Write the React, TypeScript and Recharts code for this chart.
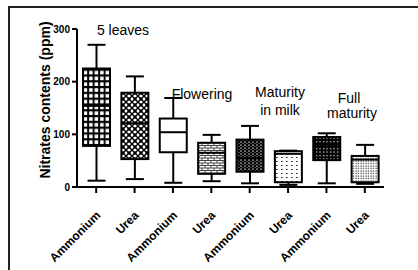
import React from 'react'
import { ComposedChart, Bar, XAxis, YAxis } from 'recharts'

const categories = ['Ammonium', 'Urea', 'Ammonium', 'Urea', 'Ammonium', 'Urea', 'Ammonium', 'Urea']
const mins = [12, 15, 8, 11, 7, 4, 7, 6]
const q1s = [78, 53, 66, 25, 29, 9, 51, 9]
const medians = [154, 121, 104, 65, 55, 63, 80, 52]
const q3s = [225, 179, 130, 84, 90, 68, 95, 59]
const maxs = [270, 210, 169, 99, 116, 69, 102, 80]
const fills = ['p1', 'p2', 'p3', 'p4', 'p5', 'p6', 'p7', 'p8']
const yTicks = [0, 100, 200, 300]

const FONT = '"Liberation Sans", Arial, sans-serif'

const data = categories.map((c, i) => ({
    idx: i,
    name: c,
    range: [mins[i], maxs[i]],
    min: mins[i],
    q1: q1s[i],
    med: medians[i],
    q3: q3s[i],
    max: maxs[i],
    fill: fills[i],
}))

function BoxShape(props: any) {
    const { x, y, width, height, payload } = props
    const top = Math.min(y, y + height)
    const h = Math.abs(height)
    const k = h / (payload.max - payload.min)
    const py = (v: number) => top + (payload.max - v) * k
    const cx = x + width / 2
    const cap = 9
    const sw = 2
    return (
        <g stroke="#000" strokeWidth={sw}>
            <line x1={cx} x2={cx} y1={py(payload.max)} y2={py(payload.q3)} />
            <line x1={cx} x2={cx} y1={py(payload.q1)} y2={py(payload.min)} />
            <line x1={cx - cap} x2={cx + cap} y1={py(payload.max)} y2={py(payload.max)} />
            <line x1={cx - cap} x2={cx + cap} y1={py(payload.min)} y2={py(payload.min)} />
            <rect
                x={x}
                y={py(payload.q3)}
                width={width}
                height={py(payload.q1) - py(payload.q3)}
                fill={`url(#${payload.fill})`}
            />
            <line x1={x} x2={x + width} y1={py(payload.med)} y2={py(payload.med)} />
        </g>
    )
}

function XTick(props: any) {
    const { x, y, payload } = props
    return (
        <g transform={`translate(${x},${y})`}>
            <text
                x={5}
                y={21}
                textAnchor="end"
                transform="rotate(-45, 5, 21)"
                fontFamily={FONT}
                fontWeight="bold"
                fontSize={12}
                fill="#000"
            >
                {categories[payload.value]}
            </text>
        </g>
    )
}

const labelStyle: React.CSSProperties = {
    position: 'absolute',
    fontFamily: FONT,
    fontSize: 14,
    color: '#000',
    whiteSpace: 'nowrap',
    transform: 'translate(-50%, -50%)',
    lineHeight: '16px',
}

export default function App() {
    return (
        <div style={{ position: 'absolute', left: 0, top: 0, width: 418, height: 270, overflow: 'hidden', background: '#fff' }}>
            <div
                style={{
                    position: 'absolute',
                    left: 8,
                    top: 6,
                    width: 420,
                    height: 300,
                    borderTop: '2px solid #222',
                    borderLeft: '2px solid #222',
                }}
            />
            <ComposedChart
                width={418}
                height={270}
                data={data}
                margin={{ top: 29, right: 34, bottom: 3, left: 27 }}
                style={{ position: 'absolute', left: 0, top: 0 }}
            >
                <defs>
                    <pattern id="p1" width="5.5" height="5.8" patternUnits="userSpaceOnUse">
                        <rect width="5.5" height="5.8" fill="#000" />
                        <rect x="1.1" y="1.2" width="3.6" height="3.6" fill="#fff" />
                    </pattern>
                    <pattern id="p2" width="6" height="6" patternUnits="userSpaceOnUse">
                        <rect width="6" height="6" fill="#fff" />
                        <path d="M0 0 L6 6 M6 0 L0 6" stroke="#000" strokeWidth="1.4" />
                        <path d="M3 1 L5 3 L3 5 L1 3 Z" fill="#000" />
                    </pattern>
                    <pattern id="p3" width="6" height="6" patternUnits="userSpaceOnUse">
                        <rect width="6" height="6" fill="#fff" />
                    </pattern>
                    <pattern id="p4" width="6" height="5" patternUnits="userSpaceOnUse">
                        <rect width="6" height="5" fill="#fff" />
                        <path d="M0 0.5 H6 M0 3 H6 M1 0.5 V3 M4 3 V5" stroke="#444" strokeWidth="1" />
                    </pattern>
                    <pattern id="p5" width="4" height="3" patternUnits="userSpaceOnUse">
                        <rect width="4" height="3" fill="#000" />
                        <ellipse cx="1" cy="1" rx="1" ry="0.5" fill="#fff" />
                        <ellipse cx="3" cy="2.3" rx="0.8" ry="0.4" fill="#ccc" />
                    </pattern>
                    <pattern id="p6" width="5" height="4" patternUnits="userSpaceOnUse">
                        <rect width="5" height="4" fill="#fff" />
                        <rect x="1" y="1" width="1.6" height="1" fill="#222" />
                    </pattern>
                    <pattern id="p7" width="3.5" height="3.5" patternUnits="userSpaceOnUse">
                        <rect width="3.5" height="3.5" fill="#000" />
                        <rect x="1" y="1" width="1.2" height="1.2" fill="#fff" />
                    </pattern>
                    <pattern id="p8" width="2.5" height="2.5" patternUnits="userSpaceOnUse">
                        <rect width="2.5" height="2.5" fill="#fff" />
                        <rect x="0.5" y="0.5" width="1.1" height="1.1" fill="#000" />
                    </pattern>
                </defs>
                <XAxis
                    dataKey="idx"
                    type="category"
                    height={80}
                    interval={0}
                    tick={<XTick />}
                    tickSize={6}
                    tickMargin={2}
                    axisLine={{ stroke: '#000', strokeWidth: 2 }}
                    tickLine={{ stroke: '#000', strokeWidth: 2 }}
                />
                <YAxis
                    width={50}
                    domain={[0, 300]}
                    ticks={yTicks}
                    interval={0}
                    tickSize={5}
                    tickMargin={2}
                    axisLine={{ stroke: '#000', strokeWidth: 2 }}
                    tickLine={{ stroke: '#000', strokeWidth: 2 }}
                    tick={{ fill: '#000', fontSize: 10, fontWeight: 'bold', fontFamily: FONT }}
                />
                <Bar dataKey="range" barSize={27} shape={<BoxShape />} isAnimationActive={false} />
            </ComposedChart>
            <div
                style={{
                    position: 'absolute',
                    left: 45,
                    top: 100,
                    transform: 'translate(-50%, -50%) rotate(-90deg)',
                    fontFamily: FONT,
                    fontWeight: 'bold',
                    fontSize: 14,
                    whiteSpace: 'nowrap',
                    color: '#000',
                }}
            >
                Nitrates contents (ppm)
            </div>
            <div style={{ ...labelStyle, left: 123, top: 30 }}>5 leaves</div>
            <div style={{ ...labelStyle, left: 202, top: 94 }}>Flowering</div>
            <div style={{ ...labelStyle, left: 280, top: 92 }}>Maturity</div>
            <div style={{ ...labelStyle, left: 280, top: 110 }}>in milk</div>
            <div style={{ ...labelStyle, left: 349, top: 98 }}>Full</div>
            <div style={{ ...labelStyle, left: 352, top: 113 }}>maturity</div>
        </div>
    )
}
